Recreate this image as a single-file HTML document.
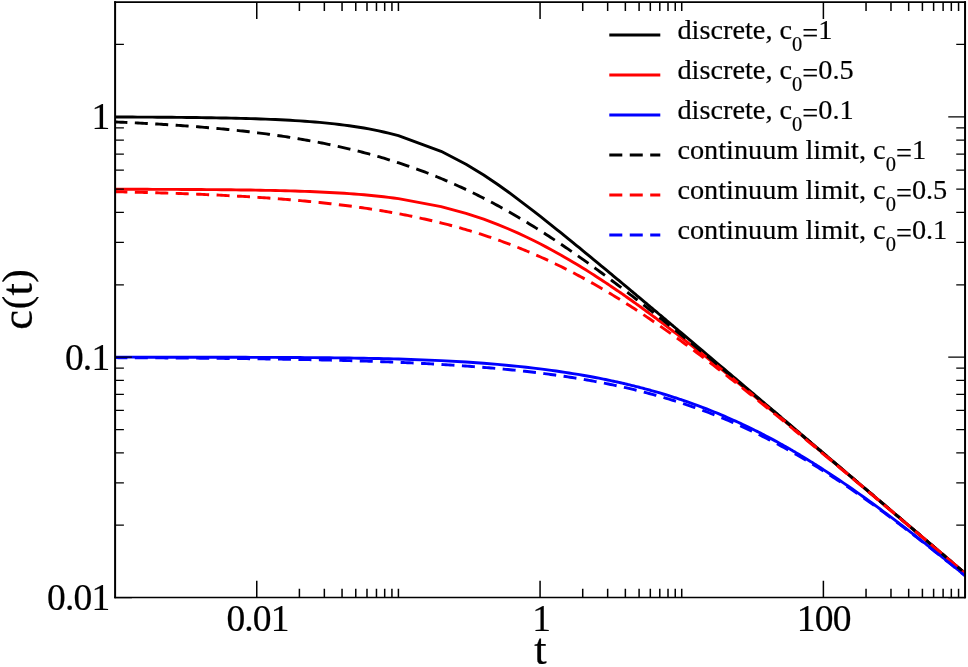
<!DOCTYPE html>
<html><head><meta charset="utf-8"><title>c(t)</title>
<style>html,body{margin:0;padding:0;background:#fff;}svg{display:block;will-change:transform;}text{font-family:"Liberation Serif",serif;fill:#000;stroke:#000;stroke-width:0.2px;}</style>
</head><body>
<svg width="968" height="667" viewBox="0 0 968 667">
<rect x="0" y="0" width="968" height="667" fill="#fff"/>
<defs><clipPath id="clip"><rect x="115.10" y="2.10" width="849.95" height="595.40"/></clipPath></defs>
<g clip-path="url(#clip)" fill="none" stroke-linejoin="round">
<path d="M108.02,116.97 L112.94,116.98 L117.86,117.00 L122.78,117.02 L127.71,117.04 L132.63,117.06 L137.55,117.08 L142.47,117.11 L147.39,117.13 L152.32,117.16 L157.24,117.19 L162.16,117.23 L167.08,117.27 L172.00,117.31 L176.93,117.35 L181.85,117.40 L186.77,117.45 L191.69,117.50 L196.61,117.56 L201.54,117.63 L206.46,117.70 L211.38,117.77 L216.30,117.86 L221.22,117.95 L226.15,118.04 L231.07,118.15 L235.99,118.26 L240.91,118.38 L245.83,118.51 L250.76,118.66 L255.68,118.81 L260.60,118.98 L265.52,119.16 L270.44,119.36 L275.37,119.57 L280.29,119.80 L285.21,120.04 L290.13,120.31 L295.05,120.60 L299.98,120.91 L304.90,121.25 L309.82,121.61 L314.74,122.00 L319.66,122.43 L324.59,122.88 L329.51,123.37 L334.43,123.90 L339.35,124.48 L344.27,125.09 L349.20,125.75 L354.12,126.46 L359.04,127.23 L363.96,128.05 L368.88,128.93 L373.81,129.88 L378.73,130.89 L383.65,131.98 L388.57,133.14 L393.49,134.38 L398.42,135.71 L441.06,151.27 L466.00,164.18 L483.70,175.03 L497.43,184.29 L508.65,192.29 L518.13,199.32 L526.35,205.55 L533.59,211.15 L540.07,216.22 L545.94,220.85 L551.29,225.10 L556.22,229.05 L560.78,232.72 L565.02,236.14 L568.99,239.36 L572.72,242.40 L576.24,245.27 L579.56,247.98 L582.72,250.57 L585.72,253.03 L588.58,255.39 L591.32,257.64 L593.94,259.80 L596.45,261.87 L598.86,263.86 L601.18,265.78 L603.42,267.64 L605.58,269.43 L607.66,271.16 L609.68,272.83 L611.63,274.45 L613.53,276.03 L615.36,277.56 L617.15,279.04 L618.88,280.48 L620.57,281.89 L622.21,283.26 L623.80,284.59 L625.36,285.89 L626.88,287.16 L628.36,288.40 L629.81,289.61 L631.23,290.79 L632.61,291.94 L633.96,293.08 L635.28,294.18 L636.58,295.27 L637.85,296.33 L639.09,297.37 L640.31,298.39 L641.50,299.39 L642.67,300.37 L643.82,301.34 L644.95,302.28 L646.06,303.21 L647.15,304.13 L648.22,305.02 L649.27,305.91 L650.31,306.77 L651.32,307.63 L652.32,308.47 L653.31,309.29 L654.28,310.11 L655.23,310.91 L656.17,311.70 L657.10,312.47 L658.01,313.24 L658.90,314.00 L659.79,314.74 L660.66,315.47 L661.52,316.20 L662.37,316.91 L663.21,317.61 L664.03,318.31 L664.85,318.99 L665.65,319.67 L666.45,320.34 L667.23,321.00 L668.01,321.65 L668.77,322.29 L669.52,322.93 L670.27,323.56 L671.01,324.18 L671.73,324.79 L672.45,325.40 L673.17,325.99 L673.87,326.59 L674.56,327.17 L675.25,327.75 L675.93,328.32 L676.60,328.89 L677.27,329.45 L677.93,330.01 L678.58,330.55 L679.22,331.10 L679.86,331.63 L680.49,332.17 L681.12,332.69 L681.73,333.21 L687.60,338.16 L692.95,342.67 L697.87,346.83 L702.43,350.68 L706.68,354.27 L710.65,357.62 L714.38,360.77 L717.89,363.75 L721.22,366.56 L724.38,369.23 L727.38,371.77 L730.24,374.19 L732.98,376.50 L735.59,378.72 L738.10,380.84 L740.52,382.88 L742.84,384.85 L745.08,386.74 L747.24,388.57 L749.32,390.33 L751.34,392.04 L753.29,393.70 L755.19,395.30 L757.02,396.85 L758.81,398.37 L760.54,399.83 L762.22,401.26 L763.86,402.65 L765.46,404.00 L767.02,405.32 L768.54,406.61 L770.02,407.87 L771.47,409.09 L772.88,410.29 L774.27,411.46 L775.62,412.61 L776.94,413.73 L778.24,414.83 L779.51,415.90 L780.75,416.95 L781.97,417.99 L783.16,419.00 L784.33,419.99 L785.48,420.97 L786.61,421.92 L787.72,422.86 L788.81,423.78 L789.88,424.69 L790.93,425.58 L791.96,426.46 L792.98,427.32 L793.98,428.17 L794.97,429.00 L795.94,429.82 L796.89,430.63 L797.83,431.43 L798.75,432.21 L799.67,432.98 L800.56,433.75 L801.45,434.50 L802.32,435.24 L803.18,435.97 L804.03,436.68 L804.87,437.39 L805.69,438.09 L806.51,438.78 L807.31,439.47 L808.11,440.14 L808.89,440.80 L809.66,441.46 L810.43,442.11 L811.18,442.75 L811.93,443.38 L812.67,444.00 L813.39,444.62 L814.11,445.23 L814.82,445.83 L815.53,446.43 L816.22,447.02 L816.91,447.60 L817.59,448.18 L818.26,448.75 L818.93,449.31 L819.59,449.87 L820.24,450.42 L820.88,450.97 L821.52,451.51 L822.15,452.04 L822.77,452.57 L823.39,453.10 L829.26,458.07 L834.61,462.61 L839.53,466.78 L844.09,470.65 L848.34,474.25 L852.31,477.62 L856.04,480.78 L859.55,483.76 L862.88,486.58 L866.04,489.26 L869.04,491.81 L871.90,494.23 L874.63,496.55 L877.25,498.77 L879.76,500.90 L882.18,502.95 L884.50,504.92 L886.74,506.82 L888.89,508.65 L890.98,510.42 L893.00,512.13 L894.95,513.78 L896.84,515.39 L898.68,516.95 L900.46,518.46 L902.20,519.93 L903.88,521.36 L905.52,522.75 L907.12,524.11 L908.68,525.43 L910.20,526.72 L911.68,527.98 L913.13,529.20 L914.54,530.40 L915.92,531.58 L917.28,532.72 L918.60,533.85 L919.90,534.94 L921.16,536.02 L922.41,537.07 L923.62,538.11 L924.82,539.12 L925.99,540.11 L927.14,541.09 L928.27,542.05 L929.38,542.99 L930.47,543.91 L931.54,544.82 L932.59,545.71 L933.62,546.59 L934.64,547.45 L935.64,548.30 L936.62,549.14 L937.59,549.96 L938.55,550.77 L939.49,551.56 L940.41,552.35 L941.32,553.12 L942.22,553.88 L943.11,554.63 L943.98,555.37 L944.84,556.10 L945.69,556.82 L946.53,557.53 L947.35,558.23 L948.17,558.93 L948.97,559.61 L949.76,560.28 L950.55,560.95 L951.32,561.60 L952.09,562.25 L952.84,562.89 L953.59,563.52 L954.32,564.15 L955.05,564.77 L955.77,565.38 L956.48,565.98 L957.19,566.58 L957.88,567.17 L958.57,567.75 L959.25,568.33 L959.92,568.90 L960.59,569.46 L961.24,570.02 L961.89,570.57 L962.54,571.12 L963.18,571.66 L963.81,572.19 L964.43,572.72 L965.05,573.25 L965.66,573.77 L966.27,574.28 L966.87,574.79 L967.46,575.30 L968.05,575.79" stroke="#000000" stroke-width="2.90"/>
<path d="M108.02,189.23 L112.94,189.24 L117.86,189.25 L122.78,189.25 L127.71,189.26 L132.63,189.27 L137.55,189.29 L142.47,189.30 L147.39,189.31 L152.32,189.33 L157.24,189.34 L162.16,189.36 L167.08,189.38 L172.00,189.40 L176.93,189.42 L181.85,189.44 L186.77,189.47 L191.69,189.50 L196.61,189.53 L201.54,189.56 L206.46,189.59 L211.38,189.63 L216.30,189.67 L221.22,189.72 L226.15,189.77 L231.07,189.82 L235.99,189.88 L240.91,189.94 L245.83,190.00 L250.76,190.07 L255.68,190.15 L260.60,190.24 L265.52,190.33 L270.44,190.42 L275.37,190.53 L280.29,190.64 L285.21,190.77 L290.13,190.90 L295.05,191.05 L299.98,191.20 L304.90,191.37 L309.82,191.55 L314.74,191.75 L319.66,191.96 L324.59,192.19 L329.51,192.43 L334.43,192.70 L339.35,192.99 L344.27,193.29 L349.20,193.62 L354.12,193.98 L359.04,194.36 L363.96,194.78 L368.88,195.22 L373.81,195.69 L378.73,196.20 L383.65,196.75 L388.57,197.33 L393.49,197.96 L398.42,198.63 L441.06,206.56 L466.00,213.32 L483.70,219.19 L497.43,224.37 L508.65,229.00 L518.13,233.19 L526.35,237.03 L533.59,240.56 L540.07,243.83 L545.94,246.89 L551.29,249.76 L556.22,252.46 L560.78,255.01 L565.02,257.44 L568.99,259.74 L572.72,261.94 L576.24,264.04 L579.56,266.06 L582.72,267.99 L585.72,269.85 L588.58,271.64 L591.32,273.37 L593.94,275.04 L596.45,276.66 L598.86,278.22 L601.18,279.74 L603.42,281.21 L605.58,282.64 L607.66,284.03 L609.68,285.38 L611.63,286.69 L613.53,287.97 L615.36,289.22 L617.15,290.44 L618.88,291.63 L620.57,292.80 L622.21,293.93 L623.80,295.04 L625.36,296.13 L626.88,297.20 L628.36,298.24 L629.81,299.26 L631.23,300.26 L632.61,301.25 L633.96,302.21 L635.28,303.15 L636.58,304.08 L637.85,304.99 L639.09,305.89 L640.31,306.77 L641.50,307.64 L642.67,308.49 L643.82,309.32 L644.95,310.15 L646.06,310.96 L647.15,311.76 L648.22,312.54 L649.27,313.31 L650.31,314.08 L651.32,314.83 L652.32,315.57 L653.31,316.30 L654.28,317.02 L655.23,317.73 L656.17,318.43 L657.10,319.12 L658.01,319.80 L658.90,320.47 L659.79,321.13 L660.66,321.79 L661.52,322.44 L662.37,323.07 L663.21,323.71 L664.03,324.33 L664.85,324.94 L665.65,325.55 L666.45,326.15 L667.23,326.75 L668.01,327.34 L668.77,327.92 L669.52,328.49 L670.27,329.06 L671.01,329.62 L671.73,330.18 L672.45,330.73 L673.17,331.27 L673.87,331.81 L674.56,332.35 L675.25,332.87 L675.93,333.40 L676.60,333.91 L677.27,334.43 L677.93,334.93 L678.58,335.43 L679.22,335.93 L679.86,336.42 L680.49,336.91 L681.12,337.40 L681.73,337.87 L687.60,342.43 L692.95,346.62 L697.87,350.50 L702.43,354.11 L706.68,357.48 L710.65,360.65 L714.38,363.64 L717.89,366.46 L721.22,369.14 L724.38,371.68 L727.38,374.11 L730.24,376.43 L732.98,378.65 L735.59,380.78 L738.10,382.83 L740.52,384.80 L742.84,386.69 L745.08,388.53 L747.24,390.29 L749.32,392.00 L751.34,393.66 L753.29,395.27 L755.19,396.82 L757.02,398.33 L758.81,399.80 L760.54,401.23 L762.22,402.62 L763.86,403.98 L765.46,405.30 L767.02,406.59 L768.54,407.84 L770.02,409.07 L771.47,410.27 L772.88,411.44 L774.27,412.59 L775.62,413.71 L776.94,414.81 L778.24,415.88 L779.51,416.94 L780.75,417.97 L781.97,418.98 L783.16,419.98 L784.33,420.95 L785.48,421.91 L786.61,422.85 L787.72,423.77 L788.81,424.68 L789.88,425.57 L790.93,426.45 L791.96,427.31 L792.98,428.16 L793.98,428.99 L794.97,429.81 L795.94,430.62 L796.89,431.42 L797.83,432.20 L798.75,432.98 L799.67,433.74 L800.56,434.49 L801.45,435.23 L802.32,435.96 L803.18,436.68 L804.03,437.39 L804.87,438.09 L805.69,438.78 L806.51,439.46 L807.31,440.13 L808.11,440.80 L808.89,441.45 L809.66,442.10 L810.43,442.74 L811.18,443.37 L811.93,444.00 L812.67,444.62 L813.39,445.23 L814.11,445.83 L814.82,446.43 L815.53,447.01 L816.22,447.60 L816.91,448.17 L817.59,448.74 L818.26,449.31 L818.93,449.87 L819.59,450.42 L820.24,450.96 L820.88,451.51 L821.52,452.04 L822.15,452.57 L822.77,453.09 L823.39,453.61 L829.26,458.54 L834.61,463.04 L839.53,467.18 L844.09,471.02 L848.34,474.59 L852.31,477.94 L856.04,481.08 L859.55,484.05 L862.88,486.86 L866.04,489.52 L869.04,492.05 L871.90,494.47 L874.63,496.78 L877.25,498.99 L879.76,501.11 L882.18,503.15 L884.50,505.11 L886.74,507.00 L888.89,508.83 L890.98,510.59 L893.00,512.30 L894.95,513.95 L896.84,515.55 L898.68,517.10 L900.46,518.61 L902.20,520.08 L903.88,521.50 L905.52,522.89 L907.12,524.24 L908.68,525.56 L910.20,526.84 L911.68,528.10 L913.13,529.32 L914.54,530.52 L915.92,531.69 L917.28,532.84 L918.60,533.96 L919.90,535.05 L921.16,536.13 L922.41,537.18 L923.62,538.21 L924.82,539.22 L925.99,540.21 L927.14,541.19 L928.27,542.14 L929.38,543.08 L930.47,544.00 L931.54,544.91 L932.59,545.80 L933.62,546.68 L934.64,547.54 L935.64,548.38 L936.62,549.22 L937.59,550.04 L938.55,550.85 L939.49,551.64 L940.41,552.43 L941.32,553.20 L942.22,553.96 L943.11,554.71 L943.98,555.45 L944.84,556.18 L945.69,556.90 L946.53,557.60 L947.35,558.30 L948.17,558.99 L948.97,559.68 L949.76,560.35 L950.55,561.01 L951.32,561.67 L952.09,562.32 L952.84,562.95 L953.59,563.59 L954.32,564.21 L955.05,564.83 L955.77,565.44 L956.48,566.04 L957.19,566.64 L957.88,567.23 L958.57,567.81 L959.25,568.38 L959.92,568.95 L960.59,569.52 L961.24,570.07 L961.89,570.63 L962.54,571.17 L963.18,571.71 L963.81,572.25 L964.43,572.78 L965.05,573.30 L965.66,573.82 L966.27,574.33 L966.87,574.84 L967.46,575.35 L968.05,575.84" stroke="#ff0000" stroke-width="2.90"/>
<path d="M108.02,357.16 L112.94,357.16 L117.86,357.16 L122.78,357.16 L127.71,357.17 L132.63,357.17 L137.55,357.17 L142.47,357.17 L147.39,357.18 L152.32,357.18 L157.24,357.18 L162.16,357.19 L167.08,357.19 L172.00,357.19 L176.93,357.20 L181.85,357.20 L186.77,357.21 L191.69,357.21 L196.61,357.22 L201.54,357.23 L206.46,357.23 L211.38,357.24 L216.30,357.25 L221.22,357.26 L226.15,357.27 L231.07,357.28 L235.99,357.29 L240.91,357.30 L245.83,357.31 L250.76,357.33 L255.68,357.34 L260.60,357.36 L265.52,357.38 L270.44,357.40 L275.37,357.42 L280.29,357.44 L285.21,357.47 L290.13,357.49 L295.05,357.52 L299.98,357.55 L304.90,357.59 L309.82,357.62 L314.74,357.66 L319.66,357.71 L324.59,357.75 L329.51,357.80 L334.43,357.85 L339.35,357.91 L344.27,357.97 L349.20,358.04 L354.12,358.11 L359.04,358.19 L363.96,358.27 L368.88,358.36 L373.81,358.45 L378.73,358.56 L383.65,358.67 L388.57,358.78 L393.49,358.91 L398.42,359.04 L441.06,360.65 L466.00,362.05 L483.70,363.29 L497.43,364.41 L508.65,365.44 L518.13,366.39 L526.35,367.28 L533.59,368.11 L540.07,368.90 L545.94,369.65 L551.29,370.37 L556.22,371.06 L560.78,371.72 L565.02,372.35 L568.99,372.96 L572.72,373.56 L576.24,374.13 L579.56,374.69 L582.72,375.23 L585.72,375.75 L588.58,376.27 L591.32,376.77 L593.94,377.26 L596.45,377.73 L598.86,378.20 L601.18,378.66 L603.42,379.10 L605.58,379.54 L607.66,379.97 L609.68,380.39 L611.63,380.81 L613.53,381.22 L615.36,381.62 L617.15,382.01 L618.88,382.40 L620.57,382.78 L622.21,383.15 L623.80,383.52 L625.36,383.89 L626.88,384.24 L628.36,384.60 L629.81,384.95 L631.23,385.29 L632.61,385.63 L633.96,385.96 L635.28,386.29 L636.58,386.62 L637.85,386.94 L639.09,387.26 L640.31,387.58 L641.50,387.89 L642.67,388.20 L643.82,388.50 L644.95,388.80 L646.06,389.10 L647.15,389.39 L648.22,389.69 L649.27,389.97 L650.31,390.26 L651.32,390.54 L652.32,390.82 L653.31,391.10 L654.28,391.38 L655.23,391.65 L656.17,391.92 L657.10,392.18 L658.01,392.45 L658.90,392.71 L659.79,392.97 L660.66,393.23 L661.52,393.48 L662.37,393.74 L663.21,393.99 L664.03,394.24 L664.85,394.48 L665.65,394.73 L666.45,394.97 L667.23,395.21 L668.01,395.45 L668.77,395.69 L669.52,395.93 L670.27,396.16 L671.01,396.39 L671.73,396.62 L672.45,396.85 L673.17,397.08 L673.87,397.30 L674.56,397.53 L675.25,397.75 L675.93,397.97 L676.60,398.19 L677.27,398.41 L677.93,398.63 L678.58,398.84 L679.22,399.05 L679.86,399.27 L680.49,399.48 L681.12,399.69 L681.73,399.89 L687.60,401.91 L692.95,403.80 L697.87,405.60 L702.43,407.32 L706.68,408.95 L710.65,410.51 L714.38,412.01 L717.89,413.45 L721.22,414.84 L724.38,416.18 L727.38,417.48 L730.24,418.73 L732.98,419.95 L735.59,421.13 L738.10,422.28 L740.52,423.39 L742.84,424.48 L745.08,425.53 L747.24,426.57 L749.32,427.57 L751.34,428.55 L753.29,429.52 L755.19,430.45 L757.02,431.37 L758.81,432.27 L760.54,433.15 L762.22,434.02 L763.86,434.86 L765.46,435.70 L767.02,436.51 L768.54,437.31 L770.02,438.10 L771.47,438.87 L772.88,439.63 L774.27,440.38 L775.62,441.11 L776.94,441.83 L778.24,442.54 L779.51,443.24 L780.75,443.93 L781.97,444.61 L783.16,445.28 L784.33,445.94 L785.48,446.59 L786.61,447.23 L787.72,447.86 L788.81,448.49 L789.88,449.10 L790.93,449.71 L791.96,450.31 L792.98,450.90 L793.98,451.48 L794.97,452.06 L795.94,452.63 L796.89,453.19 L797.83,453.75 L798.75,454.30 L799.67,454.84 L800.56,455.38 L801.45,455.91 L802.32,456.44 L803.18,456.96 L804.03,457.47 L804.87,457.98 L805.69,458.48 L806.51,458.98 L807.31,459.47 L808.11,459.96 L808.89,460.44 L809.66,460.92 L810.43,461.39 L811.18,461.86 L811.93,462.33 L812.67,462.79 L813.39,463.24 L814.11,463.69 L814.82,464.14 L815.53,464.58 L816.22,465.02 L816.91,465.45 L817.59,465.88 L818.26,466.31 L818.93,466.73 L819.59,467.15 L820.24,467.57 L820.88,467.98 L821.52,468.39 L822.15,468.80 L822.77,469.20 L823.39,469.60 L829.26,473.42 L834.61,476.96 L839.53,480.27 L844.09,483.37 L848.34,486.28 L852.31,489.04 L856.04,491.65 L859.55,494.14 L862.88,496.51 L866.04,498.77 L869.04,500.93 L871.90,503.01 L874.63,505.01 L877.25,506.93 L879.76,508.78 L882.18,510.56 L884.50,512.29 L886.74,513.96 L888.89,515.57 L890.98,517.14 L893.00,518.66 L894.95,520.14 L896.84,521.58 L898.68,522.97 L900.46,524.33 L902.20,525.66 L903.88,526.95 L905.52,528.21 L907.12,529.44 L908.68,530.64 L910.20,531.82 L911.68,532.96 L913.13,534.09 L914.54,535.19 L915.92,536.26 L917.28,537.32 L918.60,538.35 L919.90,539.36 L921.16,540.36 L922.41,541.33 L923.62,542.29 L924.82,543.23 L925.99,544.15 L927.14,545.06 L928.27,545.95 L929.38,546.83 L930.47,547.69 L931.54,548.54 L932.59,549.37 L933.62,550.19 L934.64,551.00 L935.64,551.79 L936.62,552.58 L937.59,553.35 L938.55,554.11 L939.49,554.86 L940.41,555.60 L941.32,556.33 L942.22,557.05 L943.11,557.75 L943.98,558.45 L944.84,559.14 L945.69,559.82 L946.53,560.50 L947.35,561.16 L948.17,561.82 L948.97,562.46 L949.76,563.10 L950.55,563.73 L951.32,564.36 L952.09,564.97 L952.84,565.58 L953.59,566.18 L954.32,566.78 L955.05,567.37 L955.77,567.95 L956.48,568.52 L957.19,569.09 L957.88,569.66 L958.57,570.21 L959.25,570.76 L959.92,571.31 L960.59,571.85 L961.24,572.38 L961.89,572.91 L962.54,573.44 L963.18,573.95 L963.81,574.47 L964.43,574.97 L965.05,575.48 L965.66,575.98 L966.27,576.47 L966.87,576.96 L967.46,577.44 L968.05,577.92" stroke="#0000ff" stroke-width="2.90"/>
<path d="M114.39,121.94 L116.53,122.03 L118.67,122.12 L120.81,122.22 L122.95,122.31 L125.09,122.41 L127.23,122.50 L129.37,122.60 L131.50,122.70 L133.64,122.80 L135.78,122.91 L137.92,123.01 L140.06,123.12 L142.20,123.23 L144.34,123.34 L146.48,123.45 L148.62,123.57 L150.76,123.69 L152.90,123.80 L155.03,123.93 L157.17,124.05 L159.31,124.17 L161.45,124.30 L163.59,124.43 L165.73,124.56 L167.87,124.69 L170.01,124.83 L172.15,124.97 L174.29,125.11 L176.42,125.25 L178.56,125.40 L180.70,125.54 L182.84,125.69 L184.98,125.85 L187.12,126.00 L189.26,126.16 L191.40,126.32 L193.54,126.48 L195.68,126.65 L197.82,126.81 L199.95,126.99 L202.09,127.16 L204.23,127.34 L206.37,127.52 L208.51,127.70 L210.65,127.88 L212.79,128.07 L214.93,128.26 L217.07,128.46 L219.21,128.66 L221.35,128.86 L223.48,129.06 L225.62,129.27 L227.76,129.48 L229.90,129.70 L232.04,129.92 L234.18,130.14 L236.32,130.36 L238.46,130.59 L240.60,130.82 L242.74,131.06 L244.88,131.30 L247.01,131.55 L249.15,131.79 L251.29,132.05 L253.43,132.30 L255.57,132.56 L257.71,132.83 L259.85,133.10 L261.99,133.37 L264.13,133.65 L266.27,133.93 L268.41,134.21 L270.54,134.51 L272.68,134.80 L274.82,135.10 L276.96,135.41 L279.10,135.72 L281.24,136.03 L283.38,136.35 L285.52,136.67 L287.66,137.00 L289.80,137.34 L291.94,137.68 L294.07,138.02 L296.21,138.37 L298.35,138.73 L300.49,139.09 L302.63,139.45 L304.77,139.83 L306.91,140.21 L309.05,140.59 L311.19,140.98 L313.33,141.37 L315.46,141.78 L317.60,142.18 L319.74,142.60 L321.88,143.02 L324.02,143.44 L326.16,143.87 L328.30,144.31 L330.44,144.76 L332.58,145.21 L334.72,145.67 L336.86,146.13 L338.99,146.61 L341.13,147.09 L343.27,147.57 L345.41,148.06 L347.55,148.56 L349.69,149.07 L351.83,149.59 L353.97,150.11 L356.11,150.64 L358.25,151.17 L360.39,151.72 L362.52,152.27 L364.66,152.83 L366.80,153.40 L368.94,153.97 L371.08,154.56 L373.22,155.15 L375.36,155.75 L377.50,156.36 L379.64,156.97 L381.78,157.60 L383.92,158.23 L386.05,158.87 L388.19,159.52 L390.33,160.18 L392.47,160.85 L394.61,161.53 L396.75,162.21 L398.89,162.91 L401.03,163.61 L403.17,164.32 L405.31,165.04 L407.45,165.77 L409.58,166.51 L411.72,167.26 L413.86,168.02 L416.00,168.79 L418.14,169.56 L420.28,170.35 L422.42,171.15 L424.56,171.95 L426.70,172.77 L428.84,173.60 L430.98,174.43 L433.11,175.28 L435.25,176.13 L437.39,177.00 L439.53,177.87 L441.67,178.76 L443.81,179.65 L445.95,180.56 L448.09,181.48 L450.23,182.40 L452.37,183.34 L454.50,184.28 L456.64,185.24 L458.78,186.21 L460.92,187.19 L463.06,188.17 L465.20,189.17 L467.34,190.18 L469.48,191.20 L471.62,192.23 L473.76,193.27 L475.90,194.32 L478.03,195.38 L480.17,196.45 L482.31,197.53 L484.45,198.62 L486.59,199.72 L488.73,200.84 L490.87,201.96 L493.01,203.09 L495.15,204.24 L497.29,205.39 L499.43,206.55 L501.56,207.73 L503.70,208.91 L505.84,210.11 L507.98,211.31 L510.12,212.53 L512.26,213.75 L514.40,214.99 L516.54,216.23 L518.68,217.49 L520.82,218.75 L522.96,220.02 L525.09,221.31 L527.23,222.60 L529.37,223.90 L531.51,225.22 L533.65,226.54 L535.79,227.87 L537.93,229.21 L540.07,230.56 L542.21,231.92 L544.35,233.29 L546.49,234.67 L548.62,236.05 L550.76,237.45 L552.90,238.85 L555.04,240.26 L557.18,241.68 L559.32,243.11 L561.46,244.55 L563.60,245.99 L565.74,247.45 L567.88,248.91 L570.01,250.38 L572.15,251.86 L574.29,253.34 L576.43,254.83 L578.57,256.33 L580.71,257.84 L582.85,259.36 L584.99,260.88 L587.13,262.41 L589.27,263.94 L591.41,265.48 L593.54,267.03 L595.68,268.59 L597.82,270.15 L599.96,271.72 L602.10,273.29 L604.24,274.88 L606.38,276.46 L608.52,278.05 L610.66,279.65 L612.80,281.26 L614.94,282.87 L617.07,284.48 L619.21,286.10 L621.35,287.73 L623.49,289.36 L625.63,290.99 L627.77,292.64 L629.91,294.28 L632.05,295.93 L634.19,297.59 L636.33,299.25 L638.47,300.91 L640.60,302.58 L642.74,304.25 L644.88,305.93 L647.02,307.61 L649.16,309.29 L651.30,310.98 L653.44,312.67 L655.58,314.36 L657.72,316.06 L659.86,317.76 L662.00,319.47 L664.13,321.18 L666.27,322.89 L668.41,324.61 L670.55,326.32 L672.69,328.04 L674.83,329.77 L676.97,331.49 L679.11,333.22 L681.25,334.96 L683.39,336.69 L685.53,338.43 L687.66,340.17 L689.80,341.91 L691.94,343.65 L694.08,345.40 L696.22,347.15 L698.36,348.90 L700.50,350.65 L702.64,352.40 L704.78,354.16 L706.92,355.92 L709.05,357.68 L711.19,359.44 L713.33,361.20 L715.47,362.97 L717.61,364.73 L719.75,366.50 L721.89,368.27 L724.03,370.04 L726.17,371.81 L728.31,373.59 L730.45,375.36 L732.58,377.14 L734.72,378.92 L736.86,380.70 L739.00,382.48 L741.14,384.26 L743.28,386.04 L745.42,387.82 L747.56,389.61 L749.70,391.39 L751.84,393.18 L753.98,394.97 L756.11,396.75 L758.25,398.54 L760.39,400.33 L762.53,402.12 L764.67,403.92 L766.81,405.71 L768.95,407.50 L771.09,409.29 L773.23,411.09 L775.37,412.88 L777.51,414.68 L779.64,416.48 L781.78,418.27 L783.92,420.07 L786.06,421.87 L788.20,423.67 L790.34,425.47 L792.48,427.27 L794.62,429.07 L796.76,430.87 L798.90,432.67 L801.04,434.47 L803.17,436.27 L805.31,438.08 L807.45,439.88 L809.59,441.68 L811.73,443.49 L813.87,445.29 L816.01,447.09 L818.15,448.90 L820.29,450.70 L822.43,452.51 L824.57,454.32 L826.70,456.12 L828.84,457.93 L830.98,459.73 L833.12,461.54 L835.26,463.35 L837.40,465.16 L839.54,466.96 L841.68,468.77 L843.82,470.58 L845.96,472.39 L848.09,474.20 L850.23,476.01 L852.37,477.81 L854.51,479.62 L856.65,481.43 L858.79,483.24 L860.93,485.05 L863.07,486.86 L865.21,488.67 L867.35,490.48 L869.49,492.29 L871.62,494.10 L873.76,495.91 L875.90,497.73 L878.04,499.54 L880.18,501.35 L882.32,503.16 L884.46,504.97 L886.60,506.78 L888.74,508.59 L890.88,510.41 L893.02,512.22 L895.15,514.03 L897.29,515.84 L899.43,517.65 L901.57,519.46 L903.71,521.28 L905.85,523.09 L907.99,524.90 L910.13,526.71 L912.27,528.53 L914.41,530.34 L916.55,532.15 L918.68,533.97 L920.82,535.78 L922.96,537.59 L925.10,539.40 L927.24,541.22 L929.38,543.03 L931.52,544.84 L933.66,546.66 L935.80,548.47 L937.94,550.28 L940.08,552.10 L942.21,553.91 L944.35,555.72 L946.49,557.54 L948.63,559.35 L950.77,561.16 L952.91,562.98 L955.05,564.79 L957.19,566.60 L959.33,568.42 L961.47,570.23 L963.61,572.05 L965.74,573.86 L967.88,575.67" stroke="#000000" stroke-width="2.90" stroke-dasharray="13.0 7.45"/>
<path d="M114.39,191.74 L116.53,191.78 L118.67,191.83 L120.81,191.87 L122.95,191.92 L125.09,191.97 L127.23,192.02 L129.37,192.07 L131.50,192.12 L133.64,192.17 L135.78,192.23 L137.92,192.28 L140.06,192.33 L142.20,192.39 L144.34,192.45 L146.48,192.50 L148.62,192.56 L150.76,192.62 L152.90,192.68 L155.03,192.74 L157.17,192.81 L159.31,192.87 L161.45,192.93 L163.59,193.00 L165.73,193.07 L167.87,193.14 L170.01,193.21 L172.15,193.28 L174.29,193.35 L176.42,193.42 L178.56,193.50 L180.70,193.57 L182.84,193.65 L184.98,193.73 L187.12,193.80 L189.26,193.89 L191.40,193.97 L193.54,194.05 L195.68,194.14 L197.82,194.22 L199.95,194.31 L202.09,194.40 L204.23,194.49 L206.37,194.58 L208.51,194.68 L210.65,194.77 L212.79,194.87 L214.93,194.97 L217.07,195.07 L219.21,195.17 L221.35,195.28 L223.48,195.38 L225.62,195.49 L227.76,195.60 L229.90,195.71 L232.04,195.82 L234.18,195.94 L236.32,196.06 L238.46,196.18 L240.60,196.30 L242.74,196.42 L244.88,196.54 L247.01,196.67 L249.15,196.80 L251.29,196.93 L253.43,197.07 L255.57,197.20 L257.71,197.34 L259.85,197.48 L261.99,197.62 L264.13,197.77 L266.27,197.92 L268.41,198.07 L270.54,198.22 L272.68,198.38 L274.82,198.53 L276.96,198.69 L279.10,198.86 L281.24,199.02 L283.38,199.19 L285.52,199.36 L287.66,199.54 L289.80,199.71 L291.94,199.89 L294.07,200.08 L296.21,200.26 L298.35,200.45 L300.49,200.64 L302.63,200.84 L304.77,201.04 L306.91,201.24 L309.05,201.45 L311.19,201.65 L313.33,201.87 L315.46,202.08 L317.60,202.30 L319.74,202.52 L321.88,202.75 L324.02,202.98 L326.16,203.21 L328.30,203.45 L330.44,203.69 L332.58,203.93 L334.72,204.18 L336.86,204.43 L338.99,204.69 L341.13,204.95 L343.27,205.22 L345.41,205.49 L347.55,205.76 L349.69,206.04 L351.83,206.32 L353.97,206.61 L356.11,206.90 L358.25,207.19 L360.39,207.50 L362.52,207.80 L364.66,208.11 L366.80,208.43 L368.94,208.75 L371.08,209.07 L373.22,209.40 L375.36,209.74 L377.50,210.08 L379.64,210.42 L381.78,210.77 L383.92,211.13 L386.05,211.49 L388.19,211.86 L390.33,212.23 L392.47,212.61 L394.61,212.99 L396.75,213.38 L398.89,213.78 L401.03,214.18 L403.17,214.59 L405.31,215.01 L407.45,215.43 L409.58,215.85 L411.72,216.29 L413.86,216.73 L416.00,217.17 L418.14,217.62 L420.28,218.08 L422.42,218.55 L424.56,219.02 L426.70,219.50 L428.84,219.99 L430.98,220.48 L433.11,220.99 L435.25,221.49 L437.39,222.01 L439.53,222.53 L441.67,223.06 L443.81,223.60 L445.95,224.15 L448.09,224.70 L450.23,225.26 L452.37,225.83 L454.50,226.41 L456.64,226.99 L458.78,227.58 L460.92,228.18 L463.06,228.79 L465.20,229.41 L467.34,230.04 L469.48,230.67 L471.62,231.31 L473.76,231.96 L475.90,232.62 L478.03,233.29 L480.17,233.97 L482.31,234.66 L484.45,235.35 L486.59,236.06 L488.73,236.77 L490.87,237.49 L493.01,238.22 L495.15,238.96 L497.29,239.71 L499.43,240.47 L501.56,241.24 L503.70,242.02 L505.84,242.81 L507.98,243.61 L510.12,244.41 L512.26,245.23 L514.40,246.06 L516.54,246.90 L518.68,247.74 L520.82,248.60 L522.96,249.47 L525.09,250.34 L527.23,251.23 L529.37,252.13 L531.51,253.03 L533.65,253.95 L535.79,254.88 L537.93,255.81 L540.07,256.76 L542.21,257.72 L544.35,258.69 L546.49,259.67 L548.62,260.66 L550.76,261.66 L552.90,262.67 L555.04,263.69 L557.18,264.72 L559.32,265.76 L561.46,266.81 L563.60,267.87 L565.74,268.94 L567.88,270.03 L570.01,271.12 L572.15,272.22 L574.29,273.34 L576.43,274.46 L578.57,275.60 L580.71,276.74 L582.85,277.89 L584.99,279.06 L587.13,280.24 L589.27,281.42 L591.41,282.62 L593.54,283.82 L595.68,285.04 L597.82,286.27 L599.96,287.50 L602.10,288.75 L604.24,290.00 L606.38,291.27 L608.52,292.54 L610.66,293.83 L612.80,295.12 L614.94,296.43 L617.07,297.74 L619.21,299.07 L621.35,300.40 L623.49,301.74 L625.63,303.09 L627.77,304.45 L629.91,305.82 L632.05,307.20 L634.19,308.59 L636.33,309.98 L638.47,311.39 L640.60,312.80 L642.74,314.22 L644.88,315.65 L647.02,317.09 L649.16,318.54 L651.30,319.99 L653.44,321.45 L655.58,322.92 L657.72,324.40 L659.86,325.89 L662.00,327.38 L664.13,328.88 L666.27,330.39 L668.41,331.91 L670.55,333.43 L672.69,334.96 L674.83,336.50 L676.97,338.04 L679.11,339.59 L681.25,341.15 L683.39,342.71 L685.53,344.28 L687.66,345.85 L689.80,347.44 L691.94,349.02 L694.08,350.62 L696.22,352.22 L698.36,353.82 L700.50,355.43 L702.64,357.05 L704.78,358.67 L706.92,360.29 L709.05,361.93 L711.19,363.56 L713.33,365.20 L715.47,366.85 L717.61,368.50 L719.75,370.16 L721.89,371.82 L724.03,373.48 L726.17,375.15 L728.31,376.82 L730.45,378.50 L732.58,380.18 L734.72,381.86 L736.86,383.55 L739.00,385.24 L741.14,386.94 L743.28,388.64 L745.42,390.34 L747.56,392.05 L749.70,393.76 L751.84,395.47 L753.98,397.18 L756.11,398.90 L758.25,400.62 L760.39,402.35 L762.53,404.07 L764.67,405.80 L766.81,407.53 L768.95,409.27 L771.09,411.01 L773.23,412.75 L775.37,414.49 L777.51,416.23 L779.64,417.98 L781.78,419.73 L783.92,421.48 L786.06,423.23 L788.20,424.98 L790.34,426.74 L792.48,428.50 L794.62,430.26 L796.76,432.02 L798.90,433.78 L801.04,435.55 L803.17,437.32 L805.31,439.08 L807.45,440.85 L809.59,442.63 L811.73,444.40 L813.87,446.17 L816.01,447.95 L818.15,449.72 L820.29,451.50 L822.43,453.28 L824.57,455.06 L826.70,456.84 L828.84,458.62 L830.98,460.41 L833.12,462.19 L835.26,463.98 L837.40,465.76 L839.54,467.55 L841.68,469.34 L843.82,471.13 L845.96,472.92 L848.09,474.71 L850.23,476.50 L852.37,478.29 L854.51,480.09 L856.65,481.88 L858.79,483.68 L860.93,485.47 L863.07,487.27 L865.21,489.06 L867.35,490.86 L869.49,492.66 L871.62,494.46 L873.76,496.26 L875.90,498.05 L878.04,499.85 L880.18,501.66 L882.32,503.46 L884.46,505.26 L886.60,507.06 L888.74,508.86 L890.88,510.66 L893.02,512.47 L895.15,514.27 L897.29,516.07 L899.43,517.88 L901.57,519.68 L903.71,521.49 L905.85,523.29 L907.99,525.10 L910.13,526.90 L912.27,528.71 L914.41,530.52 L916.55,532.32 L918.68,534.13 L920.82,535.94 L922.96,537.75 L925.10,539.55 L927.24,541.36 L929.38,543.17 L931.52,544.98 L933.66,546.79 L935.80,548.59 L937.94,550.40 L940.08,552.21 L942.21,554.02 L944.35,555.83 L946.49,557.64 L948.63,559.45 L950.77,561.26 L952.91,563.07 L955.05,564.88 L957.19,566.69 L959.33,568.50 L961.47,570.32 L963.61,572.13 L965.74,573.94 L967.88,575.75" stroke="#ff0000" stroke-width="2.90" stroke-dasharray="13.0 7.45"/>
<path d="M114.39,357.66 L116.53,357.67 L118.67,357.68 L120.81,357.69 L122.95,357.70 L125.09,357.71 L127.23,357.72 L129.37,357.73 L131.50,357.74 L133.64,357.75 L135.78,357.76 L137.92,357.77 L140.06,357.78 L142.20,357.80 L144.34,357.81 L146.48,357.82 L148.62,357.83 L150.76,357.84 L152.90,357.86 L155.03,357.87 L157.17,357.88 L159.31,357.89 L161.45,357.91 L163.59,357.92 L165.73,357.93 L167.87,357.95 L170.01,357.96 L172.15,357.98 L174.29,357.99 L176.42,358.01 L178.56,358.02 L180.70,358.04 L182.84,358.05 L184.98,358.07 L187.12,358.08 L189.26,358.10 L191.40,358.12 L193.54,358.13 L195.68,358.15 L197.82,358.17 L199.95,358.19 L202.09,358.21 L204.23,358.22 L206.37,358.24 L208.51,358.26 L210.65,358.28 L212.79,358.30 L214.93,358.32 L217.07,358.34 L219.21,358.36 L221.35,358.39 L223.48,358.41 L225.62,358.43 L227.76,358.45 L229.90,358.47 L232.04,358.50 L234.18,358.52 L236.32,358.55 L238.46,358.57 L240.60,358.60 L242.74,358.62 L244.88,358.65 L247.01,358.67 L249.15,358.70 L251.29,358.73 L253.43,358.75 L255.57,358.78 L257.71,358.81 L259.85,358.84 L261.99,358.87 L264.13,358.90 L266.27,358.93 L268.41,358.96 L270.54,358.99 L272.68,359.03 L274.82,359.06 L276.96,359.09 L279.10,359.13 L281.24,359.16 L283.38,359.20 L285.52,359.23 L287.66,359.27 L289.80,359.31 L291.94,359.34 L294.07,359.38 L296.21,359.42 L298.35,359.46 L300.49,359.50 L302.63,359.54 L304.77,359.58 L306.91,359.63 L309.05,359.67 L311.19,359.71 L313.33,359.76 L315.46,359.81 L317.60,359.85 L319.74,359.90 L321.88,359.95 L324.02,360.00 L326.16,360.05 L328.30,360.10 L330.44,360.15 L332.58,360.20 L334.72,360.25 L336.86,360.31 L338.99,360.36 L341.13,360.42 L343.27,360.47 L345.41,360.53 L347.55,360.59 L349.69,360.65 L351.83,360.71 L353.97,360.77 L356.11,360.84 L358.25,360.90 L360.39,360.97 L362.52,361.03 L364.66,361.10 L366.80,361.17 L368.94,361.24 L371.08,361.31 L373.22,361.38 L375.36,361.46 L377.50,361.53 L379.64,361.61 L381.78,361.68 L383.92,361.76 L386.05,361.84 L388.19,361.92 L390.33,362.01 L392.47,362.09 L394.61,362.18 L396.75,362.26 L398.89,362.35 L401.03,362.44 L403.17,362.53 L405.31,362.63 L407.45,362.72 L409.58,362.82 L411.72,362.92 L413.86,363.02 L416.00,363.12 L418.14,363.22 L420.28,363.33 L422.42,363.43 L424.56,363.54 L426.70,363.65 L428.84,363.76 L430.98,363.88 L433.11,363.99 L435.25,364.11 L437.39,364.23 L439.53,364.35 L441.67,364.48 L443.81,364.60 L445.95,364.73 L448.09,364.86 L450.23,364.99 L452.37,365.13 L454.50,365.26 L456.64,365.40 L458.78,365.55 L460.92,365.69 L463.06,365.84 L465.20,365.98 L467.34,366.14 L469.48,366.29 L471.62,366.45 L473.76,366.61 L475.90,366.77 L478.03,366.93 L480.17,367.10 L482.31,367.27 L484.45,367.44 L486.59,367.62 L488.73,367.79 L490.87,367.98 L493.01,368.16 L495.15,368.35 L497.29,368.54 L499.43,368.73 L501.56,368.93 L503.70,369.13 L505.84,369.33 L507.98,369.54 L510.12,369.75 L512.26,369.96 L514.40,370.18 L516.54,370.40 L518.68,370.62 L520.82,370.85 L522.96,371.08 L525.09,371.31 L527.23,371.55 L529.37,371.80 L531.51,372.04 L533.65,372.29 L535.79,372.55 L537.93,372.81 L540.07,373.07 L542.21,373.33 L544.35,373.61 L546.49,373.88 L548.62,374.16 L550.76,374.45 L552.90,374.73 L555.04,375.03 L557.18,375.33 L559.32,375.63 L561.46,375.94 L563.60,376.25 L565.74,376.56 L567.88,376.89 L570.01,377.21 L572.15,377.55 L574.29,377.88 L576.43,378.23 L578.57,378.57 L580.71,378.93 L582.85,379.29 L584.99,379.65 L587.13,380.02 L589.27,380.39 L591.41,380.78 L593.54,381.16 L595.68,381.56 L597.82,381.95 L599.96,382.36 L602.10,382.77 L604.24,383.19 L606.38,383.61 L608.52,384.04 L610.66,384.48 L612.80,384.92 L614.94,385.37 L617.07,385.82 L619.21,386.28 L621.35,386.75 L623.49,387.23 L625.63,387.71 L627.77,388.20 L629.91,388.70 L632.05,389.20 L634.19,389.71 L636.33,390.23 L638.47,390.76 L640.60,391.29 L642.74,391.83 L644.88,392.38 L647.02,392.94 L649.16,393.50 L651.30,394.08 L653.44,394.66 L655.58,395.24 L657.72,395.84 L659.86,396.44 L662.00,397.06 L664.13,397.68 L666.27,398.31 L668.41,398.94 L670.55,399.59 L672.69,400.25 L674.83,400.91 L676.97,401.58 L679.11,402.26 L681.25,402.95 L683.39,403.65 L685.53,404.36 L687.66,405.08 L689.80,405.80 L691.94,406.54 L694.08,407.28 L696.22,408.04 L698.36,408.80 L700.50,409.57 L702.64,410.36 L704.78,411.15 L706.92,411.95 L709.05,412.76 L711.19,413.58 L713.33,414.42 L715.47,415.26 L717.61,416.11 L719.75,416.97 L721.89,417.84 L724.03,418.72 L726.17,419.61 L728.31,420.51 L730.45,421.42 L732.58,422.34 L734.72,423.28 L736.86,424.22 L739.00,425.17 L741.14,426.13 L743.28,427.11 L745.42,428.09 L747.56,429.08 L749.70,430.09 L751.84,431.10 L753.98,432.13 L756.11,433.16 L758.25,434.21 L760.39,435.26 L762.53,436.33 L764.67,437.40 L766.81,438.49 L768.95,439.59 L771.09,440.70 L773.23,441.81 L775.37,442.94 L777.51,444.08 L779.64,445.23 L781.78,446.39 L783.92,447.56 L786.06,448.74 L788.20,449.93 L790.34,451.13 L792.48,452.34 L794.62,453.56 L796.76,454.79 L798.90,456.03 L801.04,457.28 L803.17,458.54 L805.31,459.81 L807.45,461.09 L809.59,462.38 L811.73,463.68 L813.87,464.99 L816.01,466.31 L818.15,467.63 L820.29,468.97 L822.43,470.32 L824.57,471.67 L826.70,473.03 L828.84,474.41 L830.98,475.79 L833.12,477.18 L835.26,478.58 L837.40,479.99 L839.54,481.40 L841.68,482.83 L843.82,484.26 L845.96,485.71 L848.09,487.16 L850.23,488.61 L852.37,490.08 L854.51,491.55 L856.65,493.03 L858.79,494.52 L860.93,496.02 L863.07,497.52 L865.21,499.04 L867.35,500.55 L869.49,502.08 L871.62,503.61 L873.76,505.15 L875.90,506.70 L878.04,508.25 L880.18,509.81 L882.32,511.38 L884.46,512.95 L886.60,514.53 L888.74,516.11 L890.88,517.70 L893.02,519.30 L895.15,520.90 L897.29,522.50 L899.43,524.12 L901.57,525.74 L903.71,527.36 L905.85,528.99 L907.99,530.62 L910.13,532.26 L912.27,533.90 L914.41,535.55 L916.55,537.20 L918.68,538.86 L920.82,540.52 L922.96,542.19 L925.10,543.86 L927.24,545.53 L929.38,547.21 L931.52,548.89 L933.66,550.58 L935.80,552.27 L937.94,553.96 L940.08,555.66 L942.21,557.36 L944.35,559.06 L946.49,560.77 L948.63,562.48 L950.77,564.20 L952.91,565.91 L955.05,567.63 L957.19,569.35 L959.33,571.08 L961.47,572.81 L963.61,574.54 L965.74,576.27 L967.88,578.01" stroke="#0000ff" stroke-width="2.90" stroke-dasharray="13.0 7.45"/>
</g>
<path d="M256.76,597.50 L256.76,580.70 M256.76,2.10 L256.76,18.90 M299.40,597.50 L299.40,588.70 M299.40,2.10 L299.40,10.90 M324.35,597.50 L324.35,588.70 M324.35,2.10 L324.35,10.90 M342.05,597.50 L342.05,588.70 M342.05,2.10 L342.05,10.90 M355.77,597.50 L355.77,588.70 M355.77,2.10 L355.77,10.90 M366.99,597.50 L366.99,588.70 M366.99,2.10 L366.99,10.90 M376.47,597.50 L376.47,588.70 M376.47,2.10 L376.47,10.90 M384.69,597.50 L384.69,588.70 M384.69,2.10 L384.69,10.90 M391.93,597.50 L391.93,588.70 M391.93,2.10 L391.93,10.90 M398.42,597.50 L398.42,588.70 M398.42,2.10 L398.42,10.90 M540.07,597.50 L540.07,580.70 M540.07,2.10 L540.07,18.90 M582.72,597.50 L582.72,588.70 M582.72,2.10 L582.72,10.90 M607.66,597.50 L607.66,588.70 M607.66,2.10 L607.66,10.90 M625.36,597.50 L625.36,588.70 M625.36,2.10 L625.36,10.90 M639.09,597.50 L639.09,588.70 M639.09,2.10 L639.09,10.90 M650.31,597.50 L650.31,588.70 M650.31,2.10 L650.31,10.90 M659.79,597.50 L659.79,588.70 M659.79,2.10 L659.79,10.90 M668.01,597.50 L668.01,588.70 M668.01,2.10 L668.01,10.90 M675.25,597.50 L675.25,588.70 M675.25,2.10 L675.25,10.90 M681.73,597.50 L681.73,588.70 M681.73,2.10 L681.73,10.90 M823.39,597.50 L823.39,580.70 M823.39,2.10 L823.39,18.90 M866.04,597.50 L866.04,588.70 M866.04,2.10 L866.04,10.90 M890.98,597.50 L890.98,588.70 M890.98,2.10 L890.98,10.90 M908.68,597.50 L908.68,588.70 M908.68,2.10 L908.68,10.90 M922.41,597.50 L922.41,588.70 M922.41,2.10 L922.41,10.90 M933.62,597.50 L933.62,588.70 M933.62,2.10 L933.62,10.90 M943.11,597.50 L943.11,588.70 M943.11,2.10 L943.11,10.90 M951.32,597.50 L951.32,588.70 M951.32,2.10 L951.32,10.90 M958.57,597.50 L958.57,588.70 M958.57,2.10 L958.57,10.90" stroke="#000" stroke-width="1.50" fill="none"/>
<path d="M115.10,597.50 L131.90,597.50 M965.05,597.50 L948.25,597.50 M115.10,525.14 L123.90,525.14 M965.05,525.14 L956.25,525.14 M115.10,482.82 L123.90,482.82 M965.05,482.82 L956.25,482.82 M115.10,452.79 L123.90,452.79 M965.05,452.79 L956.25,452.79 M115.10,429.50 L123.90,429.50 M965.05,429.50 L956.25,429.50 M115.10,410.46 L123.90,410.46 M965.05,410.46 L956.25,410.46 M115.10,394.37 L123.90,394.37 M965.05,394.37 L956.25,394.37 M115.10,380.43 L123.90,380.43 M965.05,380.43 L956.25,380.43 M115.10,368.14 L123.90,368.14 M965.05,368.14 L956.25,368.14 M115.10,357.14 L131.90,357.14 M965.05,357.14 L948.25,357.14 M115.10,284.78 L123.90,284.78 M965.05,284.78 L956.25,284.78 M115.10,242.46 L123.90,242.46 M965.05,242.46 L956.25,242.46 M115.10,212.43 L123.90,212.43 M965.05,212.43 L956.25,212.43 M115.10,189.14 L123.90,189.14 M965.05,189.14 L956.25,189.14 M115.10,170.10 L123.90,170.10 M965.05,170.10 L956.25,170.10 M115.10,154.01 L123.90,154.01 M965.05,154.01 L956.25,154.01 M115.10,140.07 L123.90,140.07 M965.05,140.07 L956.25,140.07 M115.10,127.78 L123.90,127.78 M965.05,127.78 L956.25,127.78 M115.10,116.78 L131.90,116.78 M965.05,116.78 L948.25,116.78 M115.10,44.43 L123.90,44.43 M965.05,44.43 L956.25,44.43" stroke="#000" stroke-width="1.25" fill="none"/>
<path d="M115.10,1.25 L115.10,598.30 M965.05,1.25 L965.05,598.30" stroke="#000" stroke-width="2.00" fill="none"/>
<path d="M114.20,2.10 L965.95,2.10" stroke="#000" stroke-width="1.7" fill="none"/>
<path d="M114.20,597.50 L965.95,597.50" stroke="#000" stroke-width="1.6" fill="none"/>
<text x="257.56" y="631" font-size="37.5" letter-spacing="-0.85" text-anchor="middle">0.01</text>
<text x="541.27" y="631" font-size="37.5" letter-spacing="-0.85" text-anchor="middle">1</text>
<text x="823.69" y="631" font-size="37.5" letter-spacing="-0.85" text-anchor="middle">100</text>
<text x="109.3" y="610.10" font-size="37.5" letter-spacing="-0.85" text-anchor="end">0.01</text>
<text x="109.3" y="369.74" font-size="37.5" letter-spacing="-0.85" text-anchor="end">0.1</text>
<text x="109.3" y="129.38" font-size="37.5" letter-spacing="-0.85" text-anchor="end">1</text>
<text x="540.5" y="664" font-size="44.5" text-anchor="middle">t</text>
<text transform="translate(32.0,299.5) rotate(-90)" font-size="44.5" text-anchor="middle">c<tspan font-size="40.4" dy="-1.6" dx="0.7">(</tspan><tspan dy="1.6" dx="0.3">t</tspan><tspan font-size="40.4" dy="-1.6" dx="0.3">)</tspan></text>
<path d="M609.3,35.0 L660.3,35.0" stroke="#000000" stroke-width="2.90" fill="none"/>
<text x="677.4" y="38.8" font-size="28.3">discrete, c<tspan dy="12.3" font-size="20.5">0</tspan><tspan dy="-8.8">=</tspan><tspan dy="-3.5">1</tspan></text>
<path d="M609.3,75.0 L660.3,75.0" stroke="#ff0000" stroke-width="2.90" fill="none"/>
<text x="677.4" y="78.8" font-size="28.3">discrete, c<tspan dy="12.3" font-size="20.5">0</tspan><tspan dy="-8.8">=</tspan><tspan dy="-3.5">0.5</tspan></text>
<path d="M609.3,115.0 L660.3,115.0" stroke="#0000ff" stroke-width="2.90" fill="none"/>
<text x="677.4" y="118.8" font-size="28.3">discrete, c<tspan dy="12.3" font-size="20.5">0</tspan><tspan dy="-8.8">=</tspan><tspan dy="-3.5">0.1</tspan></text>
<path d="M609.3,155.0 L660.3,155.0" stroke="#000000" stroke-width="2.90" fill="none" stroke-dasharray="13.0 7.45"/>
<text x="677.4" y="158.8" font-size="28.3">continuum limit, c<tspan dy="12.3" font-size="20.5">0</tspan><tspan dy="-8.8">=</tspan><tspan dy="-3.5">1</tspan></text>
<path d="M609.3,195.0 L660.3,195.0" stroke="#ff0000" stroke-width="2.90" fill="none" stroke-dasharray="13.0 7.45"/>
<text x="677.4" y="198.8" font-size="28.3">continuum limit, c<tspan dy="12.3" font-size="20.5">0</tspan><tspan dy="-8.8">=</tspan><tspan dy="-3.5">0.5</tspan></text>
<path d="M609.3,235.0 L660.3,235.0" stroke="#0000ff" stroke-width="2.90" fill="none" stroke-dasharray="13.0 7.45"/>
<text x="677.4" y="238.8" font-size="28.3">continuum limit, c<tspan dy="12.3" font-size="20.5">0</tspan><tspan dy="-8.8">=</tspan><tspan dy="-3.5">0.1</tspan></text>
</svg>
</body></html>
